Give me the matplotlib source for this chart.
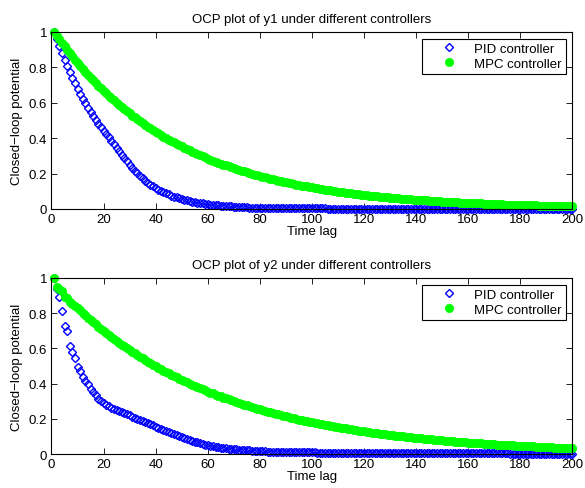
import matplotlib
matplotlib.use("Agg")
import matplotlib.pyplot as plt

plt.rcParams['font.family'] = ['Liberation Sans', 'DejaVu Sans']
plt.rcParams['font.size'] = 9.5

# time lags 1..200
lags = list(range(1, 201))

# OCP values
pid_y1 = [
    1.000, 0.958, 0.918, 0.879, 0.842, 0.807, 0.773, 0.740, 0.709, 0.679,
    0.651, 0.623, 0.597, 0.572, 0.548, 0.525, 0.503, 0.482, 0.461, 0.442,
    0.423, 0.404, 0.385, 0.365, 0.346, 0.326, 0.307, 0.288, 0.269, 0.251,
    0.233, 0.216, 0.201, 0.186, 0.173, 0.160, 0.149, 0.138, 0.128, 0.119,
    0.110, 0.102, 0.095, 0.088, 0.082, 0.076, 0.070, 0.065, 0.061, 0.056,
    0.052, 0.048, 0.045, 0.042, 0.039, 0.036, 0.033, 0.031, 0.029, 0.027,
    0.025, 0.023, 0.021, 0.020, 0.018, 0.017, 0.016, 0.015, 0.014, 0.013,
    0.012, 0.011, 0.010, 0.010, 0.009, 0.008, 0.008, 0.007, 0.007, 0.006,
    0.006, 0.006, 0.005, 0.005, 0.005, 0.005, 0.004, 0.004, 0.004, 0.004,
    0.004, 0.004, 0.004, 0.003, 0.003, 0.003, 0.003, 0.003, 0.003, 0.003,
    0.003, 0.003, 0.003, 0.003, 0.003, 0.002, 0.002, 0.002, 0.002, 0.002,
    0.002, 0.002, 0.002, 0.002, 0.002, 0.002, 0.002, 0.002, 0.002, 0.002,
    0.002, 0.002, 0.002, 0.002, 0.002, 0.001, 0.001, 0.001, 0.001, 0.001,
    0.001, 0.001, 0.001, 0.001, 0.001, 0.001, 0.001, 0.001, 0.001, 0.001,
    0.001, 0.001, 0.001, 0.001, 0.001, 0.001, 0.001, 0.001, 0.001, 0.001,
    0.001, 0.001, 0.001, 0.001, 0.001, 0.001, 0.001, 0.001, 0.001, 0.001,
    0.001, 0.001, 0.001, 0.001, 0.001, 0.001, 0.001, 0.001, 0.001, 0.001,
    0.001, 0.001, 0.001, 0.001, 0.001, 0.001, 0.001, 0.001, 0.001, 0.001,
    0.001, 0.001, 0.001, 0.001, 0.001, 0.001, 0.001, 0.001, 0.001, 0.001,
    0.001, 0.001, 0.001, 0.001, 0.001, 0.001, 0.001, 0.001, 0.001, 0.001,
]

mpc_y1 = [
    1.000, 0.979, 0.958, 0.938, 0.918, 0.899, 0.880, 0.862, 0.843, 0.826,
    0.808, 0.791, 0.775, 0.758, 0.742, 0.727, 0.711, 0.696, 0.682, 0.667,
    0.653, 0.640, 0.626, 0.613, 0.600, 0.587, 0.575, 0.563, 0.551, 0.540,
    0.528, 0.517, 0.506, 0.496, 0.485, 0.475, 0.465, 0.455, 0.446, 0.436,
    0.427, 0.418, 0.409, 0.401, 0.392, 0.384, 0.376, 0.368, 0.360, 0.353,
    0.345, 0.338, 0.331, 0.324, 0.317, 0.310, 0.304, 0.297, 0.291, 0.285,
    0.279, 0.273, 0.267, 0.262, 0.256, 0.251, 0.246, 0.240, 0.235, 0.230,
    0.226, 0.221, 0.216, 0.212, 0.207, 0.203, 0.198, 0.194, 0.190, 0.186,
    0.182, 0.178, 0.175, 0.171, 0.167, 0.164, 0.160, 0.157, 0.154, 0.151,
    0.147, 0.144, 0.141, 0.138, 0.135, 0.132, 0.130, 0.127, 0.124, 0.122,
    0.119, 0.117, 0.114, 0.112, 0.109, 0.107, 0.105, 0.103, 0.100, 0.098,
    0.096, 0.094, 0.092, 0.090, 0.088, 0.087, 0.085, 0.083, 0.081, 0.080,
    0.078, 0.076, 0.075, 0.073, 0.071, 0.070, 0.069, 0.067, 0.066, 0.064,
    0.063, 0.062, 0.060, 0.059, 0.058, 0.057, 0.055, 0.054, 0.053, 0.052,
    0.051, 0.050, 0.049, 0.048, 0.047, 0.046, 0.045, 0.044, 0.043, 0.042,
    0.041, 0.040, 0.039, 0.039, 0.038, 0.037, 0.036, 0.035, 0.035, 0.034,
    0.033, 0.033, 0.032, 0.031, 0.031, 0.030, 0.029, 0.029, 0.028, 0.027,
    0.027, 0.026, 0.026, 0.025, 0.025, 0.024, 0.024, 0.023, 0.023, 0.022,
    0.022, 0.021, 0.021, 0.020, 0.020, 0.020, 0.019, 0.019, 0.018, 0.018,
    0.018, 0.017, 0.017, 0.016, 0.016, 0.016, 0.015, 0.015, 0.015, 0.014,
]

pid_y2 = [
    1.000, 0.940, 0.890, 0.810, 0.730, 0.700, 0.615, 0.580, 0.545, 0.495,
    0.470, 0.440, 0.415, 0.395, 0.370, 0.350, 0.335, 0.315, 0.300, 0.288,
    0.278, 0.270, 0.263, 0.256, 0.250, 0.244, 0.238, 0.231, 0.225, 0.219,
    0.213, 0.206, 0.200, 0.194, 0.187, 0.181, 0.175, 0.168, 0.162, 0.156,
    0.150, 0.143, 0.137, 0.131, 0.125, 0.119, 0.113, 0.107, 0.101, 0.096,
    0.090, 0.085, 0.080, 0.075, 0.070, 0.066, 0.062, 0.058, 0.054, 0.051,
    0.048, 0.045, 0.042, 0.040, 0.037, 0.035, 0.033, 0.031, 0.029, 0.027,
    0.026, 0.024, 0.023, 0.022, 0.021, 0.020, 0.019, 0.018, 0.017, 0.016,
    0.015, 0.015, 0.014, 0.014, 0.013, 0.013, 0.013, 0.012, 0.012, 0.012,
    0.011, 0.011, 0.011, 0.010, 0.010, 0.010, 0.010, 0.009, 0.009, 0.009,
    0.009, 0.008, 0.008, 0.008, 0.008, 0.008, 0.007, 0.007, 0.007, 0.007,
    0.007, 0.007, 0.006, 0.006, 0.006, 0.006, 0.006, 0.006, 0.006, 0.005,
    0.005, 0.005, 0.005, 0.005, 0.005, 0.005, 0.005, 0.005, 0.005, 0.005,
    0.005, 0.005, 0.005, 0.005, 0.005, 0.004, 0.004, 0.004, 0.004, 0.004,
    0.004, 0.004, 0.004, 0.004, 0.004, 0.004, 0.004, 0.004, 0.004, 0.004,
    0.004, 0.004, 0.004, 0.004, 0.004, 0.003, 0.003, 0.003, 0.003, 0.003,
    0.003, 0.003, 0.003, 0.003, 0.003, 0.003, 0.003, 0.003, 0.003, 0.003,
    0.003, 0.003, 0.003, 0.003, 0.003, 0.002, 0.002, 0.002, 0.002, 0.002,
    0.002, 0.002, 0.002, 0.002, 0.002, 0.002, 0.002, 0.002, 0.002, 0.002,
    0.002, 0.002, 0.002, 0.002, 0.002, 0.002, 0.002, 0.002, 0.002, 0.002,
]

mpc_y2 = [
    1.000, 0.947, 0.935, 0.925, 0.893, 0.885, 0.862, 0.852, 0.840, 0.828,
    0.816, 0.802, 0.788, 0.775, 0.762, 0.749, 0.737, 0.724, 0.712, 0.700,
    0.688, 0.677, 0.666, 0.654, 0.643, 0.633, 0.622, 0.611, 0.601, 0.591,
    0.581, 0.571, 0.562, 0.552, 0.543, 0.534, 0.525, 0.516, 0.507, 0.499,
    0.491, 0.482, 0.474, 0.466, 0.458, 0.451, 0.443, 0.436, 0.428, 0.421,
    0.414, 0.407, 0.400, 0.394, 0.387, 0.380, 0.374, 0.368, 0.362, 0.355,
    0.349, 0.344, 0.338, 0.332, 0.327, 0.321, 0.316, 0.310, 0.305, 0.300,
    0.295, 0.290, 0.285, 0.280, 0.276, 0.271, 0.266, 0.262, 0.258, 0.253,
    0.249, 0.245, 0.241, 0.237, 0.233, 0.229, 0.225, 0.221, 0.217, 0.214,
    0.210, 0.207, 0.203, 0.200, 0.196, 0.193, 0.190, 0.187, 0.184, 0.180,
    0.177, 0.174, 0.172, 0.169, 0.166, 0.163, 0.160, 0.158, 0.155, 0.152,
    0.150, 0.147, 0.145, 0.142, 0.140, 0.138, 0.135, 0.133, 0.131, 0.129,
    0.126, 0.124, 0.122, 0.120, 0.118, 0.116, 0.114, 0.112, 0.110, 0.109,
    0.107, 0.105, 0.103, 0.101, 0.100, 0.098, 0.096, 0.095, 0.093, 0.092,
    0.090, 0.089, 0.087, 0.086, 0.084, 0.083, 0.081, 0.080, 0.079, 0.077,
    0.076, 0.075, 0.073, 0.072, 0.071, 0.070, 0.069, 0.068, 0.066, 0.065,
    0.064, 0.063, 0.062, 0.061, 0.060, 0.059, 0.058, 0.057, 0.056, 0.055,
    0.054, 0.053, 0.052, 0.051, 0.051, 0.050, 0.049, 0.048, 0.047, 0.047,
    0.046, 0.045, 0.044, 0.043, 0.043, 0.042, 0.041, 0.041, 0.040, 0.039,
    0.039, 0.038, 0.037, 0.037, 0.036, 0.035, 0.035, 0.034, 0.034, 0.033,
]

titles = ['OCP plot of y1 under different controllers',
          'OCP plot of y2 under different controllers']
xticks = [0, 20, 40, 60, 80, 100, 120, 140, 160, 180, 200]
yticks = [0, 0.2, 0.4, 0.6, 0.8, 1]
ytick_labels = ['0', '0.2', '0.4', '0.6', '0.8', '1']

fig = plt.figure(figsize=(5.85, 4.89), dpi=100)
ax1 = fig.add_axes([0.088, 0.5706, 0.8906, 0.362])
ax2 = fig.add_axes([0.088, 0.0695, 0.8906, 0.360])

for ax, pid, mpc, title in [(ax1, pid_y1, mpc_y1, titles[0]),
                            (ax2, pid_y2, mpc_y2, titles[1])]:
    ax.plot(lags, pid, linestyle='none', marker='D', markersize=4.2,
            markerfacecolor='none', markeredgecolor=(0, 0, 1),
            markeredgewidth=1.0, label='PID controller', clip_on=False)
    ax.plot(lags, mpc, linestyle='none', marker='o', markersize=6,
            markerfacecolor=(0, 1, 0), markeredgecolor=(0, 1, 0),
            markeredgewidth=0.5, label='MPC controller', clip_on=False)
    ax.set_xlim(0, 200)
    ax.set_ylim(0, 1)
    ax.set_xticks(xticks)
    ax.set_yticks(yticks)
    ax.set_yticklabels(ytick_labels)
    ax.tick_params(direction='in', top=True, right=True, length=4,
                   width=0.6, pad=3, labelsize=9.5)
    for s in ax.spines.values():
        s.set_linewidth(0.8)
    ax.set_title(title, fontsize=9.5, pad=7)
    ax.set_xlabel('Time lag', fontsize=9.5, labelpad=0)
    ax.set_ylabel('Closed\u2212loop potential', fontsize=9.5, labelpad=4)
    leg = ax.legend(loc='upper right', fancybox=False, framealpha=1,
                    edgecolor='black', borderpad=0.3, labelspacing=0.2,
                    handlelength=3.6, handletextpad=0.1, numpoints=1,
                    borderaxespad=0.5, fontsize=9.5)
    leg.get_frame().set_linewidth(0.8)

fig.savefig('out.png', dpi=100)
